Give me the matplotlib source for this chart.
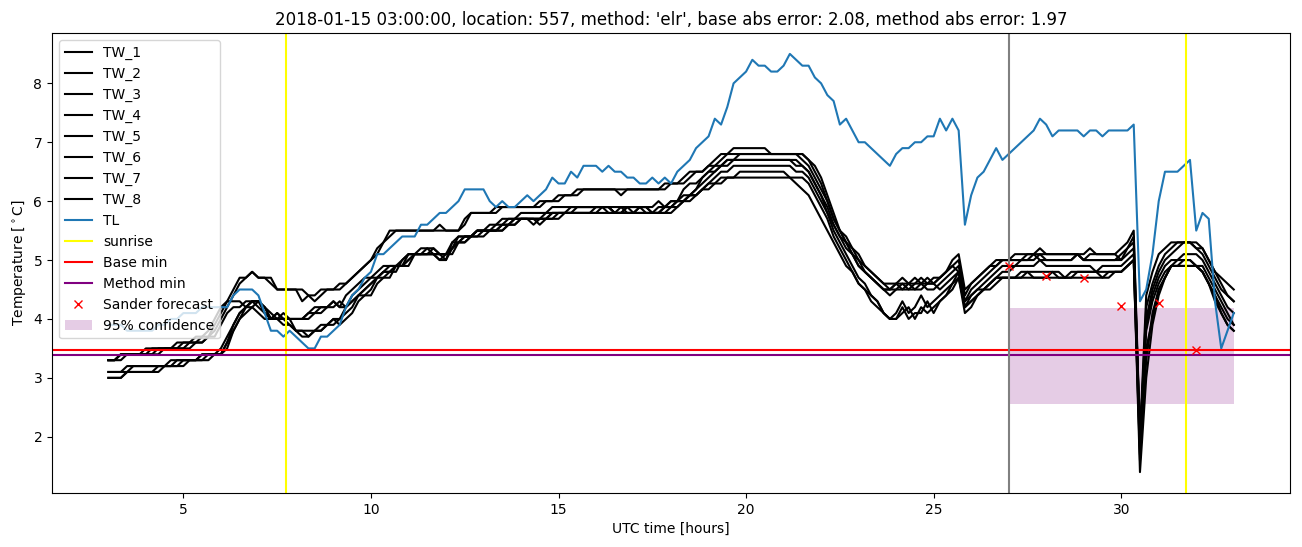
import numpy as np
import matplotlib.pyplot as plt

# 10-minute grid from 03:00 to 33:00 (hours since start of the 14th, UTC)
hours = 3 + np.arange(181) / 6

# air temperature (TL), one value per 10 minutes
TL = [3.9, 3.9, 3.9, 3.8, 3.8, 3.8, 3.8, 3.8, 3.9, 3.9, 4.0, 4.0, 4.1, 4.1, 4.1, 4.2, 4.2, 4.2,
      4.2, 4.2, 4.4, 4.5, 4.5, 4.5, 4.4, 4.1, 3.8, 3.8, 3.7, 3.8, 3.7, 3.6, 3.5, 3.5, 3.7, 3.7,
      3.8, 3.9, 4.2, 4.4, 4.5, 4.7, 4.8, 5.1, 5.1, 5.2, 5.3, 5.4, 5.4, 5.4, 5.6, 5.6, 5.7, 5.8,
      5.8, 5.9, 6.0, 6.2, 6.2, 6.2, 6.2, 6.0, 5.9, 6.0, 5.9, 5.9, 6.0, 6.1, 6.0, 6.1, 6.2, 6.4,
      6.3, 6.3, 6.5, 6.4, 6.6, 6.6, 6.6, 6.5, 6.6, 6.5, 6.5, 6.4, 6.4, 6.3, 6.3, 6.4, 6.3, 6.4,
      6.3, 6.5, 6.6, 6.7, 6.9, 7.0, 7.1, 7.4, 7.3, 7.6, 8.0, 8.1, 8.2, 8.4, 8.3, 8.3, 8.2, 8.2,
      8.3, 8.5, 8.4, 8.3, 8.3, 8.1, 8.0, 7.8, 7.7, 7.3, 7.4, 7.2, 7.0, 7.0, 6.9, 6.8, 6.7, 6.6,
      6.8, 6.9, 6.9, 7.0, 7.0, 7.1, 7.1, 7.4, 7.2, 7.4, 7.2, 5.6, 6.1, 6.4, 6.5, 6.7, 6.9, 6.7,
      6.8, 6.9, 7.0, 7.1, 7.2, 7.4, 7.3, 7.1, 7.2, 7.2, 7.2, 7.2, 7.1, 7.2, 7.2, 7.1, 7.2, 7.2,
      7.2, 7.2, 7.3, 4.3, 4.5, 5.1, 6.0, 6.5, 6.5, 6.5, 6.6, 6.7, 5.5, 5.8, 5.7, 4.3, 3.5, 3.8,
      4.1]

# road sensors: (hour, value) where the reading changes, value holds until next change
TW_1 = [(3.0, 3.3), (3.33, 3.4), (4.17, 3.5), (5.0, 3.6), (5.5, 3.7), (5.83, 3.9), (6.0, 4.1), (6.17, 4.3),
        (6.33, 4.5), (6.5, 4.7), (6.83, 4.8), (7.0, 4.7), (7.5, 4.5), (8.17, 4.3), (8.33, 4.4), (8.67, 4.5),
        (9.17, 4.6), (9.5, 4.7), (9.67, 4.8), (9.83, 4.9), (10.0, 5.0), (10.17, 5.2), (10.33, 5.3), (10.5, 5.5),
        (11.83, 5.6), (12.0, 5.5), (12.5, 5.7), (12.67, 5.8), (13.33, 5.9), (14.5, 6.0), (15.0, 6.1), (15.5, 6.2),
        (17.83, 6.3), (18.33, 6.4), (18.5, 6.5), (19.0, 6.6), (19.17, 6.7), (19.33, 6.8), (19.67, 6.9), (20.67, 6.8),
        (21.67, 6.7), (21.83, 6.6), (22.0, 6.4), (22.17, 6.1), (22.33, 5.8), (22.5, 5.5), (22.67, 5.3), (22.83, 5.2),
        (23.0, 5.0), (23.17, 4.9), (23.33, 4.8), (23.5, 4.7), (23.67, 4.6), (24.17, 4.7), (24.33, 4.6), (24.83, 4.7),
        (25.0, 4.6), (25.17, 4.7), (25.33, 4.8), (25.5, 4.9), (25.67, 5.0), (25.83, 4.4), (26.0, 4.6), (26.17, 4.7),
        (26.33, 4.8), (26.5, 4.9), (26.67, 5.0), (27.17, 5.1), (27.83, 5.2), (28.0, 5.1), (29.17, 5.2), (29.33, 5.1),
        (30.0, 5.2), (30.17, 5.3), (30.33, 5.5), (30.5, 2.0), (30.67, 4.4), (30.83, 4.8), (31.0, 5.1), (31.17, 5.2),
        (31.33, 5.3), (32.17, 5.2), (32.33, 5.0), (32.5, 4.8), (32.67, 4.7), (32.83, 4.6), (33.0, 4.5)]
TW_2 = [(3.0, 3.3), (3.5, 3.4), (4.33, 3.5), (5.17, 3.6), (5.67, 3.7), (5.83, 3.8), (6.0, 4.0), (6.17, 4.2),
        (6.33, 4.4), (6.5, 4.6), (6.67, 4.7), (6.83, 4.8), (7.0, 4.7), (7.33, 4.6), (7.5, 4.5), (8.33, 4.4),
        (8.5, 4.3), (8.67, 4.4), (8.83, 4.5), (9.33, 4.6), (9.5, 4.7), (9.67, 4.8), (9.83, 4.9), (10.0, 5.0),
        (10.17, 5.1), (10.33, 5.3), (10.5, 5.4), (10.67, 5.5), (12.5, 5.6), (12.67, 5.8), (13.5, 5.9), (14.67, 6.0),
        (15.17, 6.1), (15.67, 6.2), (16.67, 6.1), (16.83, 6.2), (18.0, 6.3), (18.5, 6.4), (18.67, 6.5), (19.0, 6.6),
        (19.33, 6.7), (19.5, 6.8), (21.67, 6.7), (21.83, 6.5), (22.0, 6.3), (22.17, 6.0), (22.33, 5.7), (22.5, 5.5),
        (22.67, 5.4), (22.83, 5.2), (23.0, 5.1), (23.17, 4.9), (23.33, 4.8), (23.5, 4.7), (23.67, 4.6), (23.83, 4.5),
        (24.0, 4.6), (24.5, 4.7), (24.67, 4.6), (25.0, 4.7), (25.33, 4.8), (25.5, 4.9), (25.67, 4.8), (25.83, 4.3),
        (26.0, 4.5), (26.17, 4.6), (26.33, 4.7), (26.5, 4.8), (26.67, 4.9), (26.83, 5.0), (27.5, 5.1), (29.0, 5.0),
        (29.17, 5.1), (30.0, 5.0), (30.17, 5.2), (30.33, 5.3), (30.5, 1.9), (30.67, 4.2), (30.83, 4.6), (31.0, 4.9),
        (31.17, 5.1), (31.33, 5.2), (31.5, 5.3), (32.0, 5.2), (32.17, 5.1), (32.33, 4.9), (32.5, 4.7), (32.67, 4.5),
        (32.83, 4.4), (33.0, 4.3)]
TW_3 = [(3.0, 3.1), (3.5, 3.2), (4.67, 3.3), (5.5, 3.4), (6.17, 3.6), (6.33, 3.9), (6.5, 4.1), (6.67, 4.2),
        (6.83, 4.3), (7.17, 4.2), (7.33, 4.1), (7.5, 4.0), (7.67, 4.1), (7.83, 4.0), (8.33, 4.1), (8.67, 4.2),
        (9.0, 4.3), (9.17, 4.2), (9.5, 4.3), (9.67, 4.4), (9.83, 4.5), (10.0, 4.6), (10.17, 4.7), (10.33, 4.8),
        (10.67, 4.9), (11.0, 5.0), (11.17, 5.1), (11.5, 5.2), (11.83, 5.1), (12.17, 5.3), (12.5, 5.4), (12.83, 5.5),
        (13.5, 5.6), (13.83, 5.7), (14.67, 5.8), (15.5, 5.9), (16.83, 5.8), (17.17, 5.9), (17.5, 5.8), (17.83, 5.9),
        (18.17, 6.0), (18.5, 6.1), (18.67, 6.2), (18.83, 6.3), (19.0, 6.4), (19.17, 6.5), (19.33, 6.6), (19.5, 6.7),
        (19.83, 6.8), (21.5, 6.7), (21.67, 6.6), (21.83, 6.4), (22.0, 6.2), (22.17, 6.0), (22.33, 5.7), (22.5, 5.5),
        (22.67, 5.3), (22.83, 5.1), (23.0, 5.0), (23.17, 4.8), (23.33, 4.7), (23.5, 4.6), (23.67, 4.5), (24.0, 4.6),
        (24.17, 4.5), (24.67, 4.6), (24.83, 4.5), (25.17, 4.6), (25.33, 4.7), (25.5, 4.8), (25.67, 4.9), (25.83, 4.3),
        (26.0, 4.4), (26.17, 4.5), (26.33, 4.6), (26.5, 4.7), (26.67, 4.8), (26.83, 4.9), (27.33, 5.0), (27.67, 5.1),
        (27.83, 5.0), (28.83, 5.1), (29.0, 5.0), (30.17, 5.1), (30.33, 5.2), (30.5, 1.8), (30.67, 3.9), (30.83, 4.4),
        (31.0, 4.7), (31.17, 4.9), (31.33, 5.0), (31.67, 5.1), (32.17, 5.0), (32.33, 4.8), (32.5, 4.6), (32.67, 4.4),
        (32.83, 4.2), (33.0, 4.1)]
TW_4 = [(3.0, 3.3), (3.33, 3.4), (4.5, 3.5), (5.33, 3.6), (5.67, 3.7), (6.0, 3.9), (6.17, 4.1), (6.33, 4.2),
        (6.67, 4.3), (7.0, 4.2), (7.17, 4.1), (7.33, 4.0), (7.5, 4.1), (7.67, 4.0), (8.33, 4.1), (8.5, 4.2),
        (9.17, 4.3), (9.33, 4.2), (9.5, 4.4), (9.67, 4.5), (9.83, 4.6), (10.0, 4.7), (10.33, 4.8), (10.5, 4.9),
        (11.0, 5.1), (11.33, 5.2), (11.67, 5.1), (12.0, 5.0), (12.17, 5.3), (12.33, 5.4), (12.83, 5.5), (13.33, 5.6),
        (13.67, 5.7), (14.33, 5.6), (14.5, 5.7), (14.83, 5.8), (15.33, 5.9), (16.5, 5.8), (16.67, 5.9), (17.33, 5.8),
        (17.67, 5.9), (18.0, 6.0), (18.33, 6.1), (18.67, 6.2), (18.83, 6.4), (19.0, 6.5), (19.33, 6.6), (19.67, 6.7),
        (21.33, 6.6), (21.67, 6.5), (21.83, 6.3), (22.0, 6.1), (22.17, 5.8), (22.33, 5.6), (22.5, 5.4), (22.67, 5.3),
        (22.83, 5.1), (23.0, 4.9), (23.17, 4.8), (23.33, 4.7), (23.5, 4.6), (23.67, 4.5), (23.83, 4.4), (24.0, 4.5),
        (24.33, 4.6), (24.5, 4.5), (24.83, 4.6), (25.17, 4.5), (25.33, 4.6), (25.5, 4.7), (25.67, 4.8), (25.83, 4.2),
        (26.0, 4.4), (26.17, 4.5), (26.5, 4.6), (26.67, 4.7), (26.83, 4.8), (27.17, 4.9), (27.83, 5.0), (28.0, 4.9),
        (29.33, 4.8), (29.5, 4.9), (30.17, 5.0), (30.33, 5.1), (30.5, 2.1), (30.67, 3.8), (30.83, 4.3), (31.0, 4.6),
        (31.17, 4.8), (31.33, 4.9), (31.5, 5.0), (32.0, 4.9), (32.17, 4.8), (32.33, 4.6), (32.5, 4.4), (32.67, 4.2),
        (32.83, 4.0), (33.0, 3.9)]
TW_5 = [(3.0, 3.0), (3.5, 3.1), (4.5, 3.2), (5.0, 3.3), (5.67, 3.4), (6.17, 3.5), (6.33, 3.8), (6.5, 4.0),
        (6.67, 4.2), (6.83, 4.3), (7.17, 4.2), (7.33, 4.0), (7.83, 3.9), (8.0, 3.8), (8.33, 3.7), (8.5, 3.8),
        (8.83, 3.9), (9.17, 4.0), (9.33, 4.1), (9.5, 4.2), (9.67, 4.4), (9.83, 4.5), (10.0, 4.6), (10.17, 4.7),
        (10.5, 4.8), (10.67, 4.9), (11.17, 5.1), (11.83, 5.0), (12.17, 5.2), (12.33, 5.3), (12.67, 5.4), (13.0, 5.5),
        (13.5, 5.6), (13.83, 5.7), (14.83, 5.8), (16.0, 5.9), (16.33, 5.8), (17.17, 5.9), (17.5, 5.8), (17.83, 5.9),
        (18.17, 6.0), (18.5, 6.1), (18.83, 6.2), (19.0, 6.3), (19.17, 6.4), (19.33, 6.5), (19.67, 6.6), (21.33, 6.5),
        (21.67, 6.4), (21.83, 6.2), (22.0, 6.0), (22.17, 5.8), (22.33, 5.5), (22.5, 5.3), (22.67, 5.1), (22.83, 4.9),
        (23.0, 4.7), (23.17, 4.6), (23.33, 4.4), (23.5, 4.3), (23.67, 4.1), (23.83, 4.0), (24.0, 4.1), (24.17, 4.3),
        (24.33, 4.1), (24.5, 4.2), (24.67, 4.4), (24.83, 4.2), (25.0, 4.3), (25.17, 4.4), (25.33, 4.5), (25.5, 4.6),
        (25.67, 4.8), (25.83, 4.2), (26.0, 4.3), (26.17, 4.4), (26.33, 4.5), (26.5, 4.6), (26.67, 4.7), (27.33, 4.8),
        (28.5, 4.7), (28.67, 4.8), (30.17, 4.9), (30.33, 5.0), (30.5, 1.4), (30.67, 3.0), (30.83, 3.9), (31.0, 4.4),
        (31.17, 4.7), (31.33, 4.9), (32.17, 4.8), (32.33, 4.6), (32.5, 4.4), (32.67, 4.1), (32.83, 3.9), (33.0, 3.8)]
TW_6 = [(3.0, 3.1), (3.67, 3.2), (4.83, 3.3), (5.5, 3.4), (6.0, 3.5), (6.17, 3.7), (6.33, 3.9), (6.5, 4.1),
        (6.67, 4.2), (6.83, 4.3), (7.17, 4.1), (7.33, 4.0), (8.0, 3.8), (8.83, 3.9), (9.0, 4.0), (9.33, 4.2),
        (9.5, 4.3), (9.67, 4.4), (10.0, 4.5), (10.17, 4.7), (10.33, 4.8), (10.83, 5.0), (11.0, 5.1), (12.17, 5.2),
        (12.33, 5.3), (12.5, 5.4), (12.83, 5.5), (13.67, 5.6), (14.0, 5.7), (14.5, 5.6), (14.67, 5.7), (15.0, 5.8),
        (16.83, 5.9), (17.0, 5.8), (18.0, 5.9), (18.33, 6.0), (18.67, 6.1), (18.83, 6.2), (19.0, 6.3), (19.33, 6.4),
        (19.83, 6.5), (21.17, 6.4), (21.67, 6.3), (21.83, 6.1), (22.0, 5.9), (22.17, 5.7), (22.33, 5.4), (22.5, 5.2),
        (22.67, 5.0), (22.83, 4.8), (23.0, 4.6), (23.17, 4.5), (23.33, 4.3), (23.5, 4.2), (23.67, 4.1), (23.83, 4.0),
        (24.17, 4.2), (24.33, 4.0), (24.5, 4.1), (24.83, 4.3), (25.0, 4.1), (25.17, 4.3), (25.33, 4.4), (25.5, 4.5),
        (25.67, 4.7), (25.83, 4.1), (26.0, 4.2), (26.17, 4.4), (26.33, 4.5), (26.67, 4.6), (26.83, 4.7), (28.17, 4.8),
        (28.33, 4.7), (29.67, 4.8), (30.17, 4.9), (30.33, 5.0), (30.5, 1.7), (30.67, 3.3), (30.83, 4.1), (31.0, 4.5),
        (31.17, 4.7), (31.33, 4.9), (31.67, 5.0), (32.0, 4.9), (32.33, 4.7), (32.5, 4.5), (32.67, 4.3), (32.83, 4.1),
        (33.0, 3.9)]
TW_7 = [(3.0, 3.3), (3.33, 3.4), (4.0, 3.5), (4.83, 3.6), (5.33, 3.7), (5.67, 3.8), (5.83, 4.0), (6.0, 4.2),
        (6.17, 4.3), (6.67, 4.2), (7.0, 4.1), (7.17, 4.0), (7.5, 4.1), (7.67, 4.0), (8.5, 4.1), (8.83, 4.2),
        (9.0, 4.3), (9.17, 4.2), (9.33, 4.4), (9.5, 4.5), (9.67, 4.6), (9.83, 4.7), (10.17, 4.8), (10.33, 4.9),
        (10.83, 5.0), (11.0, 5.1), (11.67, 5.2), (11.83, 5.1), (12.17, 5.2), (12.33, 5.4), (12.83, 5.5), (13.17, 5.6),
        (13.5, 5.7), (14.0, 5.8), (14.83, 5.9), (16.5, 5.8), (16.83, 5.9), (17.67, 6.0), (17.83, 5.9), (18.0, 6.0),
        (18.33, 6.2), (18.5, 6.3), (18.83, 6.4), (19.0, 6.5), (19.17, 6.6), (19.5, 6.7), (21.5, 6.6), (21.67, 6.5),
        (21.83, 6.3), (22.0, 6.1), (22.17, 5.9), (22.33, 5.6), (22.5, 5.4), (22.67, 5.2), (22.83, 5.1), (23.0, 4.9),
        (23.17, 4.8), (23.33, 4.7), (23.5, 4.6), (23.67, 4.5), (24.17, 4.6), (24.33, 4.5), (24.5, 4.6), (24.67, 4.7),
        (24.83, 4.6), (25.17, 4.7), (25.33, 4.8), (25.5, 5.0), (25.67, 5.1), (25.83, 4.5), (26.0, 4.6), (26.17, 4.7),
        (26.33, 4.8), (26.5, 4.9), (26.83, 5.0), (27.83, 5.1), (28.0, 5.0), (28.83, 5.1), (29.0, 5.0), (30.0, 5.1),
        (30.17, 5.2), (30.33, 5.4), (30.5, 1.9), (30.67, 4.0), (30.83, 4.5), (31.0, 4.8), (31.17, 5.0), (31.33, 5.1),
        (31.5, 5.2), (31.67, 5.3), (32.0, 5.2), (32.33, 5.0), (32.5, 4.8), (32.67, 4.6), (32.83, 4.4), (33.0, 4.3)]
TW_8 = [(3.0, 3.0), (3.5, 3.1), (4.33, 3.2), (5.17, 3.3), (5.83, 3.4), (6.17, 3.6), (6.33, 3.8), (6.5, 4.0),
        (6.67, 4.1), (6.83, 4.2), (7.0, 4.3), (7.17, 4.2), (7.33, 4.0), (7.67, 3.9), (8.0, 3.8), (8.17, 3.7),
        (8.5, 3.8), (8.67, 3.9), (9.0, 4.0), (9.17, 3.9), (9.33, 4.0), (9.5, 4.1), (9.67, 4.3), (9.83, 4.4),
        (10.17, 4.6), (10.33, 4.7), (10.67, 4.9), (11.0, 5.0), (11.17, 5.1), (11.83, 5.0), (12.0, 5.1), (12.33, 5.3),
        (12.67, 5.4), (13.17, 5.5), (13.67, 5.6), (14.0, 5.7), (15.17, 5.8), (16.17, 5.9), (16.5, 5.8), (18.17, 5.9),
        (18.33, 6.0), (18.5, 6.1), (18.83, 6.2), (19.17, 6.3), (19.5, 6.4), (21.33, 6.3), (21.5, 6.2), (21.67, 6.1),
        (21.83, 5.9), (22.0, 5.7), (22.17, 5.5), (22.33, 5.3), (22.5, 5.1), (22.67, 4.9), (22.83, 4.8), (23.0, 4.6),
        (23.17, 4.5), (23.33, 4.4), (23.5, 4.3), (23.67, 4.1), (23.83, 4.0), (24.17, 4.1), (24.33, 4.2), (24.5, 4.0),
        (24.67, 4.2), (24.83, 4.1), (25.0, 4.2), (25.17, 4.3), (25.33, 4.4), (25.5, 4.6), (25.67, 4.7), (25.83, 4.2),
        (26.0, 4.3), (26.17, 4.4), (26.33, 4.5), (26.5, 4.6), (26.67, 4.7), (27.5, 4.8), (27.67, 4.7), (28.83, 4.8),
        (29.5, 4.7), (29.83, 4.8), (30.17, 4.9), (30.33, 5.0), (30.5, 1.6), (30.67, 3.5), (30.83, 4.0), (31.0, 4.5),
        (31.17, 4.7), (31.33, 4.9), (32.17, 4.8), (32.33, 4.6), (32.5, 4.3), (32.67, 4.1), (32.83, 3.9), (33.0, 3.8)]
tw_series = [TW_1, TW_2, TW_3, TW_4, TW_5, TW_6, TW_7, TW_8]
tw_labels = ['TW_1', 'TW_2', 'TW_3', 'TW_4', 'TW_5', 'TW_6', 'TW_7', 'TW_8']

sunrise = [7.74, 31.73]
forecast_time = 27.0
base_min = 3.48
method_min = 3.38
conf_low, conf_high = 2.56, 4.19
sander_x = [27, 28, 29, 30, 31, 32]
sander_y = [4.90, 4.73, 4.69, 4.22, 4.27, 3.48]


def on_grid(bp):
    # breakpoint hours are rounded to 2 decimals, so allow a small tolerance
    t = np.array([b[0] for b in bp])
    v = np.array([b[1] for b in bp])
    idx = np.searchsorted(t, hours + 0.01, side='right') - 1
    return v[idx]


fig, ax = plt.subplots(figsize=(13.02, 5.47), dpi=100)
fig.subplots_adjust(left=0.040, right=0.9908, bottom=0.0987, top=0.9397)

for bp, lab in zip(tw_series, tw_labels):
    ax.plot(hours, on_grid(bp), color='black', label=lab)
ax.plot(hours, TL, color='C0', label='TL')
ax.axvline(sunrise[0], color='yellow', label='sunrise')
ax.axvline(sunrise[1], color='yellow')
ax.axhline(base_min, color='red', label='Base min')
ax.axhline(method_min, color='purple', label='Method min')
ax.axvline(forecast_time, color='gray')
ax.plot(sander_x, sander_y, 'rx', label='Sander forecast')
ax.fill_between([forecast_time, 33.0], conf_low, conf_high, color='purple', alpha=0.2,
                linewidth=0, label='95% confidence')

ax.set_title("2018-01-15 03:00:00, location: 557, method: 'elr', base abs error: 2.08, method abs error: 1.97")
ax.set_xlabel('UTC time [hours]')
ax.set_ylabel(r'Temperature [$^\circ$C]')
ax.legend(loc='upper left')

fig.savefig('out.png', dpi=100)
